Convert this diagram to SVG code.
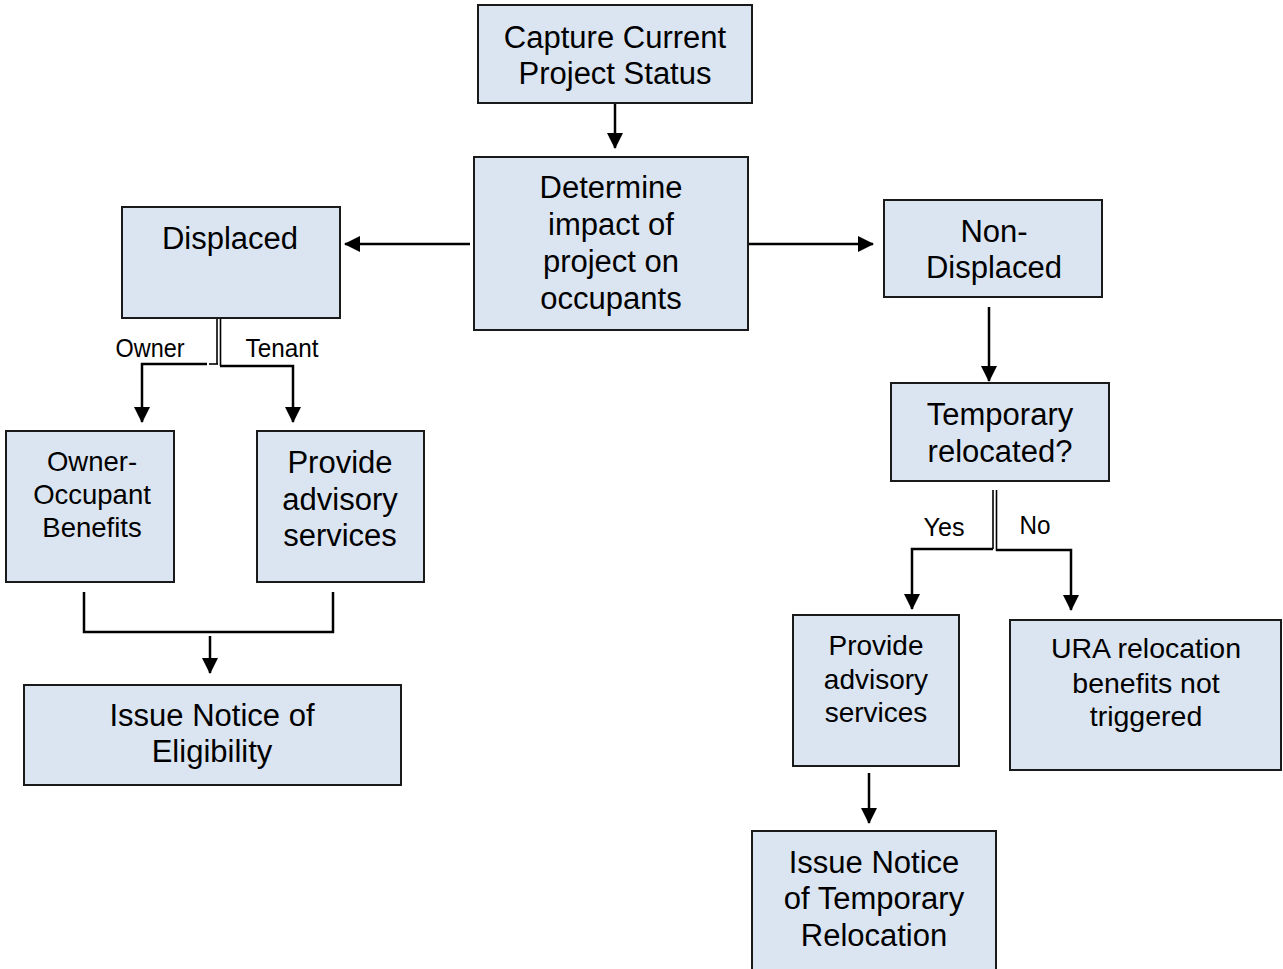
<svg xmlns="http://www.w3.org/2000/svg" width="1283" height="969" viewBox="0 0 1283 969">
<style>
.box{fill:#dbe5f1;stroke:#1a1a1a;stroke-width:2}
.t{font-family:"Liberation Sans",Arial,sans-serif;font-size:31px;fill:#000;text-anchor:middle}
.s{font-size:28px}
.lbl{font-family:"Liberation Sans Narrow","Liberation Sans",Arial,sans-serif;font-size:25px;fill:#000;text-anchor:middle}
.ln{fill:none;stroke:#000;stroke-width:2.5}
.thin{fill:none;stroke:#000;stroke-width:1.6}
</style>
<defs>
<marker id="ah" viewBox="0 0 16 16" refX="15" refY="8" markerWidth="16" markerHeight="16" markerUnits="userSpaceOnUse" orient="auto">
<path d="M0,0 L16,8 L0,16 z" fill="#000"/>
</marker>
</defs>
<rect width="1283" height="969" fill="#fff"/>
<g id="connectors">
<line class="ln" x1="615" y1="103" x2="615" y2="148" marker-end="url(#ah)"/>
<line class="ln" x1="470" y1="244" x2="345" y2="244" marker-end="url(#ah)"/>
<line class="ln" x1="748" y1="244" x2="873" y2="244" marker-end="url(#ah)"/>
<line class="thin" x1="217" y1="318" x2="217" y2="364"/>
<line class="thin" x1="220.5" y1="318" x2="220.5" y2="366"/>
<polyline class="ln" points="207,364 142,364 142,422" marker-end="url(#ah)"/>
<line class="thin" x1="209" y1="364" x2="218" y2="364"/>
<polyline class="ln" points="220,366 293,366 293,422" marker-end="url(#ah)"/>
<polyline class="ln" points="84,592 84,632 333,632 333,592"/>
<line class="ln" x1="210" y1="636" x2="210" y2="673" marker-end="url(#ah)"/>
<line class="ln" x1="989" y1="307" x2="989" y2="381" marker-end="url(#ah)"/>
<line class="thin" x1="993" y1="490" x2="993" y2="549"/>
<line class="thin" x1="996.5" y1="490" x2="996.5" y2="551"/>
<polyline class="ln" points="993,549 912,549 912,609" marker-end="url(#ah)"/>
<polyline class="ln" points="996,550 1071,550 1071,610" marker-end="url(#ah)"/>
<line class="ln" x1="869" y1="773" x2="869" y2="823" marker-end="url(#ah)"/>
<text class="lbl" x="150" y="357" textLength="69" lengthAdjust="spacingAndGlyphs">Owner</text>
<text class="lbl" x="282" y="357" textLength="73" lengthAdjust="spacingAndGlyphs">Tenant</text>
<text class="lbl" x="944" y="536" textLength="41" lengthAdjust="spacingAndGlyphs">Yes</text>
<text class="lbl" x="1035" y="534" textLength="31" lengthAdjust="spacingAndGlyphs">No</text>
</g>
<g id="capture">
<rect class="box" x="478" y="5" width="274" height="98"/>
<text class="t" x="615" y="48">Capture Current</text>
<text class="t" x="615" y="84">Project Status</text>
</g>
<g id="determine">
<rect class="box" x="474" y="157" width="274" height="173"/>
<text class="t" x="611" y="198">Determine</text>
<text class="t" x="611" y="235">impact of</text>
<text class="t" x="611" y="272">project on</text>
<text class="t" x="611" y="309">occupants</text>
</g>
<g id="displaced">
<rect class="box" x="122" y="207" width="218" height="111"/>
<text class="t" x="230" y="249">Displaced</text>
</g>
<g id="nondisplaced">
<rect class="box" x="884" y="200" width="218" height="97"/>
<text class="t" x="994" y="242">Non-</text>
<text class="t" x="994" y="278">Displaced</text>
</g>
<g id="temporary">
<rect class="box" x="891" y="383" width="218" height="98"/>
<text class="t" x="1000" y="425">Temporary</text>
<text class="t" x="1000" y="462">relocated?</text>
</g>
<g id="owner">
<rect class="box" x="6" y="431" width="168" height="151"/>
<text class="t" x="92" y="471" style="font-size:27.5px">Owner-</text>
<text class="t" x="92" y="504" style="font-size:27.5px">Occupant</text>
<text class="t" x="92" y="537" style="font-size:27.5px">Benefits</text>
</g>
<g id="advisory-left">
<rect class="box" x="257" y="431" width="167" height="151"/>
<text class="t" x="340" y="473">Provide</text>
<text class="t" x="340" y="510">advisory</text>
<text class="t" x="340" y="546">services</text>
</g>
<g id="eligibility">
<rect class="box" x="24" y="685" width="377" height="100"/>
<text class="t" x="212" y="726">Issue Notice of</text>
<text class="t" x="212" y="762">Eligibility</text>
</g>
<g id="advisory-right">
<rect class="box" x="793" y="615" width="166" height="151"/>
<text class="t s" x="876" y="655">Provide</text>
<text class="t s" x="876" y="689">advisory</text>
<text class="t s" x="876" y="722">services</text>
</g>
<g id="ura">
<rect class="box" x="1010" y="620" width="271" height="150"/>
<text class="t" x="1146" y="658" style="font-size:28.5px">URA relocation</text>
<text class="t" x="1146" y="693" style="font-size:28.5px">benefits not</text>
<text class="t" x="1146" y="726" style="font-size:28.5px">triggered</text>
</g>
<g id="temp-notice">
<rect class="box" x="752" y="831" width="244" height="150"/>
<text class="t" x="874" y="873">Issue Notice</text>
<text class="t" x="874" y="909">of Temporary</text>
<text class="t" x="874" y="946">Relocation</text>
</g>
</svg>
